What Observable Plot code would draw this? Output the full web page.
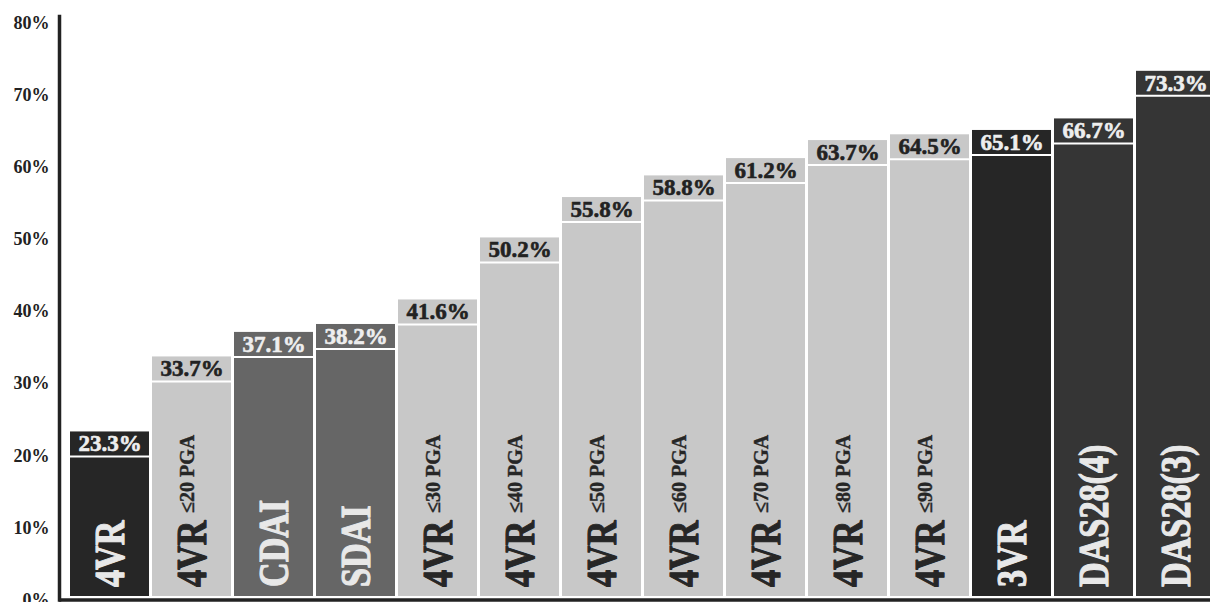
<!DOCTYPE html>
<html>
<head>
<meta charset="utf-8">
<script src="https://cdn.jsdelivr.net/npm/d3@7"></script>
<script src="https://cdn.jsdelivr.net/npm/@observablehq/plot@0.6"></script>
<style>
  html, body { margin: 0; padding: 0; background: #fff; }
</style>
</head>
<body>
<div id="chart"></div>
<script>
// ---- data ----
const categories = ["4VR", "4VR ≤20 PGA", "CDAI", "SDAI", "4VR ≤30 PGA", "4VR ≤40 PGA", "4VR ≤50 PGA",
  "4VR ≤60 PGA", "4VR ≤70 PGA", "4VR ≤80 PGA", "4VR ≤90 PGA", "3VR", "DAS28(4)", "DAS28(3)"];
const mainLabels = ["4VR", "4VR", "CDAI", "SDAI", "4VR", "4VR", "4VR", "4VR", "4VR", "4VR", "4VR", "3VR", "DAS28(4)", "DAS28(3)"];
const supLabels = ["", "≤20 PGA", "", "", "≤30 PGA", "≤40 PGA", "≤50 PGA", "≤60 PGA", "≤70 PGA", "≤80 PGA", "≤90 PGA", "", "", ""];
const values = [23.3, 33.7, 37.1, 38.2, 41.6, 50.2, 55.8, 58.8, 61.2, 63.7, 64.5, 65.1, 66.7, 73.3];
const groups = ["black", "light", "mid", "mid", "light", "light", "light", "light", "light", "light", "light", "black", "dark", "dark"];
const yTicks = [0, 10, 20, 30, 40, 50, 60, 70, 80];

const groupKeys = ["black", "dark", "mid", "light"];
const groupColors = ["#262626", "#353535", "#666666", "#c8c8c8"];

const data = categories.map((id, i) => ({id, main: mainLabels[i], sup: supLabels[i], value: values[i], group: groups[i]}));
const lightData = data.filter(d => d.group === "light");
const darkData = data.filter(d => d.group !== "light");

const font = "'Liberation Serif', 'Times New Roman', serif";
const fmt = d => d.value.toFixed(1) + "%";

const chart = Plot.plot({
  width: 1210,
  height: 602,
  marginTop: 22.5,
  marginBottom: 2.5,
  marginLeft: 59,
  marginRight: 0,
  style: {fontFamily: font, fontWeight: "bold", background: "#fff", color: "#222", fontSize: "18px"},
  x: {domain: categories, range: [69, 1216.5], paddingInner: 0.04, paddingOuter: 0, axis: null},
  y: {domain: [0, 80], axis: null, label: null},
  color: {type: "ordinal", domain: groupKeys, range: groupColors},
  marks: [
    Plot.barY(data, {x: "id", y: "value", fill: "group", insetBottom: 3.5}),
    Plot.tickY(data, {x: "id", y: "value", dy: 24.5, stroke: "#fff", strokeWidth: 2}),
    Plot.text(lightData, {x: "id", y: "value", text: fmt, dy: 12, fontSize: 23, fontWeight: "bold", fill: "#222", stroke: "#222", strokeWidth: 0.6}),
    Plot.text(darkData, {x: "id", y: "value", text: fmt, dy: 12, fontSize: 23, fontWeight: "bold", fill: "#eee", stroke: "#eee", strokeWidth: 0.6}),
    Plot.text(lightData, {x: "id", y: 0, text: "main", rotate: -90, textAnchor: "start", dy: -13, dx: 1, fontSize: 38, fontWeight: "bold", fill: "#262626", stroke: "#262626", strokeWidth: 1}),
    Plot.text(darkData, {x: "id", y: 0, text: "main", rotate: -90, textAnchor: "start", dy: -13, dx: 1, fontSize: 38, fontWeight: "bold", fill: "#e8e8e8", stroke: "#e8e8e8", strokeWidth: 1}),
    Plot.text(data.filter(d => d.sup), {x: "id", y: 0, text: "sup", rotate: -90, textAnchor: "start", dy: -87, dx: -4.5, fontSize: 20, fontWeight: "bold", fill: "#262626", stroke: "#262626", strokeWidth: 0.4}),
    Plot.axisY({ticks: yTicks, tickSize: 0, tickPadding: 10, tickFormat: d => d + "%", label: null, fontSize: 18, fontWeight: "bold", fill: "#222", stroke: "#222", strokeWidth: 0.5}),
    Plot.ruleY([0], {stroke: "#222", strokeWidth: 3.5}),
    Plot.frame({anchor: "left", stroke: "#222", strokeWidth: 3.5, insetTop: -6.5})
  ]
});
// condense the large rotated category labels slightly, as in the original typeface
chart.querySelectorAll('g[font-size="38"] text').forEach(t => {
  t.setAttribute("transform", t.getAttribute("transform") + " scale(0.9,1.1)");
});
document.getElementById("chart").appendChild(chart);
</script>
</body>
</html>
